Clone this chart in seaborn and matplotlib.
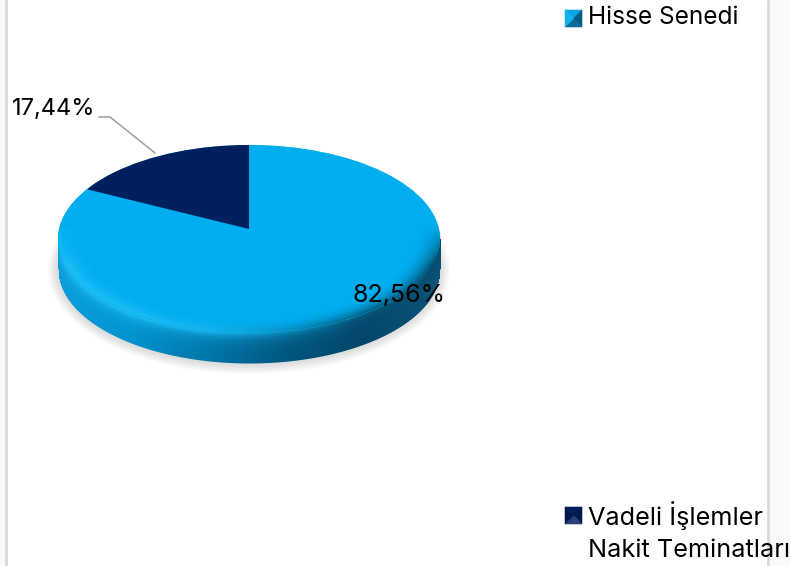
import numpy as np
import seaborn as sns
from matplotlib import pyplot as plt
from matplotlib.patches import Ellipse, Polygon, Rectangle

categories = ['Hisse Senedi', 'Vadeli İşlemler\nNakit Teminatları']
shares = [82.56, 17.44]
colors = ['#00aeef', '#001f5f']

W, H = 790, 566
CX, TOP_CY, RX, RY = 249, 239, 191, 94  # top face, in pixels
DEPTH = 30

sns.set_style('white')
plt.rcParams['font.family'] = ['Inter', 'DejaVu Sans']


def canvas(fig, zorder):
  """Full-figure transparent axes that work in image pixels."""
  ax = fig.add_axes([0, 0, 1, 1], zorder=zorder)
  ax.set_xlim(0, W)
  ax.set_ylim(H, 0)
  ax.axis('off')
  return ax


def swatch(ax, x, y, size, shades):
  """Small bevelled legend square: top, right, bottom, left triangles."""
  corners = [(x, y), (x + size, y), (x + size, y + size), (x, y + size)]
  mid = (x + size / 2, y + size / 2)
  for i, shade in enumerate(shades):
    ax.add_patch(Polygon([corners[i], corners[(i + 1) % 4], mid],
                         facecolor=shade, edgecolor=shade, lw=.4))


fig = plt.figure(figsize=(W / 100, H / 100), dpi=100)
back = canvas(fig, 0)
pie_ax = fig.add_axes([(CX - RX) / W, 1 - (229 + 91) / H, 2 * RX / W, 2 * 91 / H], zorder=1)
front = canvas(fig, 2)

# page edges
back.add_patch(Rectangle((0, 0), 6, H, color='#f9f9f9', lw=0))
back.add_patch(Rectangle((769, 0), 21, H, color='#f9f9f9', lw=0))
back.axvline(6, color='#d9d9d9', lw=2)
back.axvline(768, color='#d9d9d9', lw=2)

# soft shadow under the disc
for grow in np.linspace(0, 10, 10):
  back.add_patch(Ellipse((CX, 270), 2 * (RX + grow), 2 * (RY + grow),
                         color='#9a9a9a', alpha=.04, lw=0))

rim_cmap = sns.blend_palette(['#20c0f8', '#20c0f8', '#18b4ee', '#0a8cbe', '#05587c', '#05486a'],
                             as_cmap=True)

# disc side, shaded left to right and fading out of the rim colour
px, py = np.meshgrid(np.arange(CX - RX, CX + RX + 1.0), np.arange(TOP_CY, H, 1.0))
u = (px - CX) / RX
arc = RY * np.sqrt(np.clip(1 - u ** 2, 0, 1))
side_cmap = sns.blend_palette(['#0a9fdc', '#0092ce', '#0074a6', '#00567e', '#03476a', '#0a5478'],
                              as_cmap=True)
side = side_cmap((u + 1) / 2)
fade = np.exp(-np.clip(py - TOP_CY - arc, 0, None) / 6)[..., None]
side[..., :3] = side[..., :3] * (1 - fade) + rim_cmap((u + 1) / 2)[..., :3] * fade
side[..., 3] = np.clip(TOP_CY + DEPTH + arc - py + .5, 0, 1)
back.imshow(side, extent=(CX - RX - .5, CX + RX + .5, H, TOP_CY), aspect='auto', zorder=3)
back.set_xlim(0, W)
back.set_ylim(H, 0)

# top face
face = Ellipse((CX, TOP_CY), 2 * RX, 2 * RY, color=colors[0], lw=0, zorder=4)
back.add_patch(face)
wedges, _ = pie_ax.pie(shares, colors=colors, startangle=90, counterclock=False, radius=1.3,
                       wedgeprops={'linewidth': 0, 'edgecolor': 'none'})
pie_ax.set_aspect('auto')
pie_ax.set_xlim(-1, 1)
pie_ax.set_ylim(-1, 1)
for w in wedges:
  w.set_clip_on(True)
  w.set_clip_path(face)

# bevel along the lower rim of the face
px, py = np.meshgrid(np.arange(CX - RX, CX + RX + 1.0), np.arange(TOP_CY - 20, TOP_CY + RY + 1.0))
u, v = (px - CX) / RX, (py - TOP_CY) / RY
rim = np.hypot(u, v)
bevel = rim_cmap((u + 1) / 2)
strength = np.clip(1 - (1 - rim) / .15, 0, 1) ** 2 * np.clip((py - TOP_CY + 15) / 40, 0, 1)
bevel[..., 3] = strength * np.clip((1 - rim) * RY + .5, 0, 1)
front.imshow(bevel, extent=(CX - RX - .5, CX + RX + .5, TOP_CY + RY, TOP_CY - 20), aspect='auto')
front.set_xlim(0, W)
front.set_ylim(H, 0)

# data labels
labels = [f'{s:.2f}'.replace('.', ',') + '%' for s in shares]
front.text(353, 296, labels[0], fontsize=18, color='black', va='center', ha='left')
front.text(12, 109, labels[1], fontsize=17, color='black', va='center', ha='left')
front.plot([99, 110, 155], [117, 117, 153], color='#a6a6a6', lw=1.2)

# legend
swatch(front, 565, 10, 17, ['#0aa5e0', '#035f88', '#0a6d99', '#12b2ee'])
swatch(front, 565, 507, 17, ['#001f5f', '#00194d', '#2a3f78', '#001a52'])
front.text(588, 18, categories[0], fontsize=17.6, color='black', va='center', ha='left')
front.text(588, 532, categories[1], fontsize=18.2, color='black', va='center', ha='left',
           linespacing=1.5)

fig.savefig('out.png', dpi=100)
